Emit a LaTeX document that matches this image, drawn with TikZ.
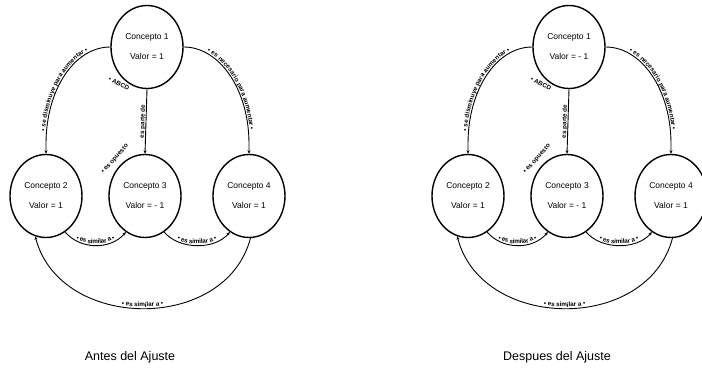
\documentclass[tikz,border=0pt]{standalone}
\usepackage{fontspec}
\setmainfont{Liberation Sans}
\usetikzlibrary{shapes.geometric,arrows.meta,decorations.text}
\newcommand\lblfont{\bfseries\fontsize{6.3}{7}\selectfont}
\tikzset{
  concept/.style={draw, line width=1.4pt, ellipse, minimum width=72pt,
    minimum height=83pt, inner sep=0pt, align=center,
    font=\fontsize{8.5}{10}\selectfont},
  rel/.style={line width=0.9pt},
  tipend/.style={-{Stealth[length=3.5pt,width=3pt]}},
  tipstart/.style={{Stealth[length=3.5pt,width=3pt]}-},
  lbl/.style={postaction={decorate, decoration={text along path,
    text={|\lblfont|#1}, text align=center, raise=1.5pt}}},
  tag/.style={font=\lblfont, inner sep=0pt},
  caption/.style={font=\fontsize{12.5}{15}\selectfont}
}
% one concept map: #1 shift, #2 name prefix, #3--#6 the four values
\newcommand\conceptmap[6]{%
  \begin{scope}[xshift=#1]
    \node[concept] (#2c1) at (147,47)  {Concepto 1\\[10pt]Valor = #3};
    \node[concept] (#2c2) at (46,196)  {Concepto 2\\[10pt]Valor = #4};
    \node[concept] (#2c3) at (145,196) {Concepto 3\\[10pt]Valor = #5};
    \node[concept] (#2c4) at (249,196) {Concepto 4\\[10pt]Valor = #6};
    % upper arcs
    \draw[rel, tipstart, lbl={• se disminuye para aumentar •}]
      (#2c2.north) -- ([yshift=10pt]#2c2.north)
      .. controls +(0,-54) and +(-36,0) .. (#2c1.west);
    \draw[rel, tipend, lbl={• es necesario para aumentar •}]
      (#2c1.east) .. controls +(36,0) and +(0,-54) .. ([yshift=10pt]#2c4.north)
      -- (#2c4.north);
    % centre link
    \draw[rel, tipstart, lbl={es parte de}] (#2c3.north) -- (#2c1.south);
    \node[tag, rotate=-27] (#2t1) at (119,84) {• ABCD};
    \node[tag, rotate=48] (#2t2) at (115,159) {• es opuesto};
    % lower arcs
    \draw[rel, tipend, lbl={• es similar a •}]
      (#2c2.-62) .. controls +(15,18) and +(-15,18) .. (#2c3.-118);
    \draw[rel, tipend, lbl={• es similar a •}]
      (#2c3.-62) .. controls +(15,18) and +(-15,18) .. (#2c4.-118);
    \draw[rel, tipstart, lbl={• es similar a •}]
      (#2c2.-105) .. controls +(25,95) and +(-25,95) .. (#2c4.-88);
  \end{scope}}
\begin{document}
\begin{tikzpicture}[x=1pt, y=-1pt]
  \useasboundingbox (0,0) rectangle (702,371);
  \conceptmap{0pt}{L}{1}{1}{- 1}{1}
  \conceptmap{422pt}{R}{- 1}{1}{- 1}{1}
  \node[caption] (capL) at (130,357) {Antes del Ajuste};
  \node[caption] (capR) at (557,357) {Despues del Ajuste};
\end{tikzpicture}
\end{document}
